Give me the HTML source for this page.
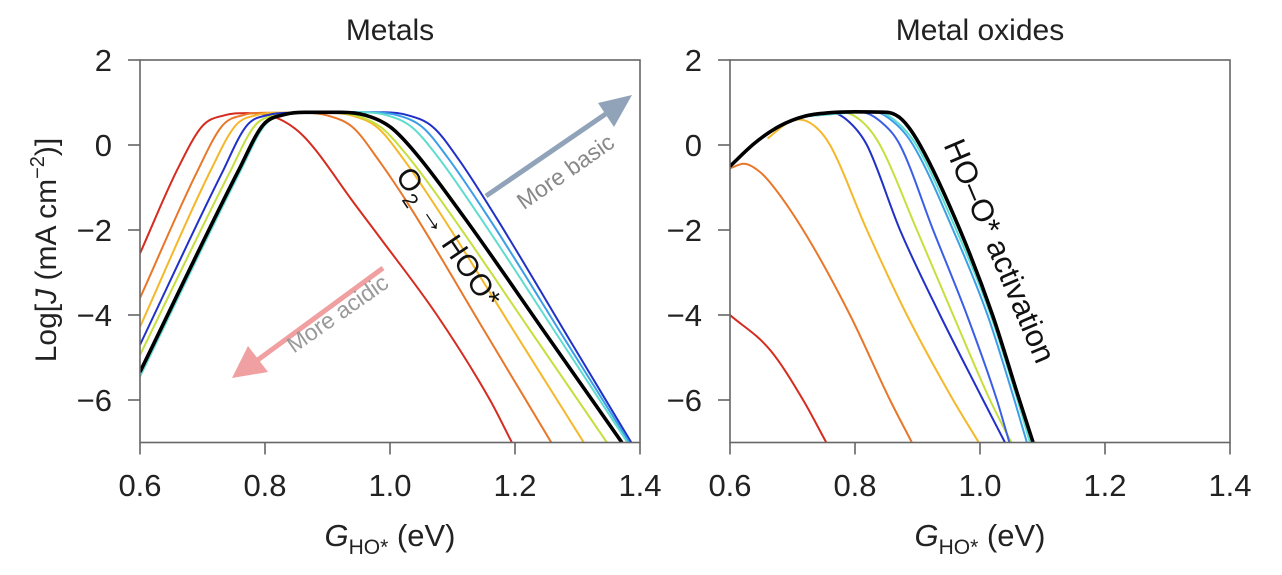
<!DOCTYPE html>
<html><head><meta charset="utf-8"><style>
html,body{margin:0;padding:0;background:#fff;}
svg text{font-family:"Liberation Sans",Arial,sans-serif;}
</style></head><body>
<svg id="chart" width="1282" height="570" viewBox="0 0 1282 570" xmlns="http://www.w3.org/2000/svg">
<g id="root"></g>
</svg>
<script>
const xTicks=[0.6,0.8,1.0,1.2,1.4];
const xTickLabels=["0.6","0.8","1.0","1.2","1.4"];
const yTicks=[2,0,-2,-4,-6];
const yTickLabels=["2","0","\u22122","\u22124","\u22126"];
const panelTitles=["Metals","Metal oxides"];
const seriesColors=["#d62b1f","#e8772a","#f5b82a","#2030c8","#c6df3c","#5fdcd0","#3c9ee8","#000000","#3a5ee6"];
const seriesNames=["red","orange","light-orange","dark-blue","yellow-green","cyan","light-blue","black","blue"];
// Metals panel curves: [x, logJ]
const metalsRed=[[0.6,-2.55],[0.66,-0.57],[0.70,0.45],[0.735,0.7],[0.77,0.75],[0.80,0.72],[0.83,0.56],[0.855,0.3],[0.88,-0.1],[0.938,-1.28],[0.985,-2.2],[1.075,-4.0],[1.16,-6.0],[1.195,-7]];
const metalsOrange=[[0.6,-3.6],[0.692,-0.61],[0.732,0.46],[0.767,0.71],[0.80,0.76],[0.861,0.76],[0.901,0.69],[0.941,0.41],[0.981,-0.34],[1.03,-1.41],[1.15,-4.35],[1.258,-7]];
const metalsLightOrange=[[0.6,-4.28],[0.713,-0.6],[0.753,0.46],[0.788,0.71],[0.82,0.76],[0.90,0.76],[0.94,0.69],[0.98,0.41],[1.02,-0.3],[1.08,-1.6],[1.2,-4.42],[1.31,-7]];
const metalsDarkBlue=[[0.6,-4.7],[0.731,-0.66],[0.771,0.46],[0.806,0.71],[0.84,0.76],[0.989,0.77],[1.029,0.70],[1.069,0.42],[1.109,-0.32],[1.17,-1.71],[1.29,-4.65],[1.386,-7]];
const metalsYellowGreen=[[0.6,-4.94],[0.744,-0.63],[0.784,0.46],[0.819,0.71],[0.85,0.76],[0.906,0.76],[0.946,0.69],[0.986,0.41],[1.026,-0.22],[1.1,-1.69],[1.22,-4.27],[1.347,-7]];
const metalsCyan=[[0.6,-5.45],[0.76,-0.63],[0.80,0.47],[0.835,0.72],[0.87,0.77],[0.955,0.77],[0.995,0.70],[1.035,0.42],[1.075,-0.25],[1.15,-1.83],[1.27,-4.53],[1.38,-7]];
const metalsLightBlue=[[0.6,-5.4],[0.759,-0.62],[0.799,0.47],[0.834,0.72],[0.87,0.77],[0.972,0.77],[1.012,0.70],[1.052,0.42],[1.092,-0.29],[1.16,-1.76],[1.28,-4.58],[1.383,-7]];
const metalsBlack=[[0.6,-5.34],[0.757,-0.62],[0.797,0.47],[0.832,0.72],[0.865,0.77],[0.921,0.77],[0.961,0.70],[1.001,0.42],[1.041,-0.19],[1.12,-1.73],[1.25,-4.46],[1.371,-7]];
// Metal oxides panel curves
const oxRed=[[0.6,-4.0],[0.664,-4.82],[0.717,-6.0],[0.754,-7]];
const oxOrange=[[0.6,-0.55],[0.622,-0.44],[0.645,-0.6],[0.664,-0.88],[0.717,-2.0],[0.792,-4.0],[0.856,-6.0],[0.891,-7]];
const oxLightOrange=[[0.66,0.15],[0.69,0.5],[0.71,0.6],[0.735,0.45],[0.76,0.0],[0.819,-2.0],[0.883,-4.0],[0.957,-6.0],[0.998,-7]];
const oxDarkBlue=[[0.72,0.68],[0.76,0.77],[0.79,0.55],[0.819,0.0],[0.872,-2.0],[0.936,-4.0],[1.005,-6.0],[1.04,-7]];
const oxYellowGreen=[[0.72,0.68],[0.78,0.77],[0.815,0.5],[0.84,0.0],[0.899,-2.0],[0.957,-4.0],[1.016,-6.0],[1.05,-7]];
const oxBlue=[[0.72,0.68],[0.81,0.77],[0.845,0.5],[0.872,0.0],[0.925,-2.0],[0.979,-4.0],[1.027,-6.0],[1.047,-7]];
const oxLightBlue=[[0.72,0.68],[0.83,0.78],[0.865,0.5],[0.893,0.0],[0.957,-2.0],[1.012,-4.0],[1.055,-6.0],[1.075,-7]];
const oxCyan=[[0.72,0.68],[0.835,0.78],[0.87,0.5],[0.898,0.0],[0.962,-2.0],[1.017,-4.0],[1.06,-6.0],[1.08,-7]];
const oxBlack=[[0.6,-0.5],[0.64,0.05],[0.68,0.45],[0.72,0.68],[0.76,0.76],[0.8,0.78],[0.85,0.77],[0.875,0.6],[0.904,0.0],[0.968,-2.0],[1.02,-4.0],[1.063,-6.0],[1.085,-7]];

const NS="http://www.w3.org/2000/svg";
const root=document.getElementById('root');
function mk(tag,attrs,parent){const e=document.createElementNS(NS,tag);for(const k in attrs)e.setAttribute(k,attrs[k]);(parent||root).appendChild(e);return e;}
const X0=[140,730], PW=500, YTOP=60, YBOT=442.5;
function sx(p,v){return X0[p]+(v-0.6)/(1.4-0.6)*PW;}
function sy(v){return YTOP+(2-v)/(2-(-7))*(YBOT-YTOP);}
function pathFor(p,pts){
  const P=pts.map(d=>[sx(p,d[0]),sy(d[1])]);
  const n=P.length, d=[], m=[];
  for(let i=0;i<n-1;i++) d.push((P[i+1][1]-P[i][1])/(P[i+1][0]-P[i][0]));
  m[0]=d[0]; m[n-1]=d[n-2];
  for(let i=1;i<n-1;i++){ m[i]=(d[i-1]*d[i]<=0)?0:(d[i-1]+d[i])/2; }
  for(let i=0;i<n-1;i++){
    if(d[i]===0){m[i]=0;m[i+1]=0;continue;}
    const a=m[i]/d[i], b=m[i+1]/d[i], s=a*a+b*b;
    if(s>9){const t=3/Math.sqrt(s); m[i]=t*a*d[i]; m[i+1]=t*b*d[i];}
  }
  let s="M"+P[0][0].toFixed(1)+","+P[0][1].toFixed(1);
  for(let i=0;i<n-1;i++){
    const h=(P[i+1][0]-P[i][0])/3;
    s+=" C"+(P[i][0]+h).toFixed(1)+","+(P[i][1]+m[i]*h).toFixed(1)+" "+(P[i+1][0]-h).toFixed(1)+","+(P[i+1][1]-m[i+1]*h).toFixed(1)+" "+P[i+1][0].toFixed(1)+","+P[i+1][1].toFixed(1);
  }
  return s;
}
function panel(p,curves,colorIdx){
  const g=mk('g',{});
  
  
  const cp=mk('clipPath',{id:'clip'+p},g);
  mk('rect',{x:X0[p],y:YTOP,width:PW,height:YBOT-YTOP},cp);
  const t=mk('text',{x:X0[p]+PW/2,y:40,'text-anchor':'middle','font-size':30,fill:'#222'},g);
  t.textContent=panelTitles[p];
  
  
  const cg=mk('g',{'clip-path':'url(#clip'+p+')'},g);
  curves.forEach((c,i)=>{
    const ci=colorIdx[i];
    const pa=mk('path',{d:pathFor(p,c),fill:'none',stroke:seriesColors[ci],'stroke-width':ci===7?3.6:2,'stroke-linejoin':'round'},cg);
    
    
  });
  const fr=mk('rect',{x:X0[p],y:YTOP,width:PW,height:YBOT-YTOP,fill:'none',stroke:'#666','stroke-width':1.6},g);
  
  
  xTicks.forEach((v,i)=>{
    const x=sx(p,v);
    const tk=mk('line',{x1:x,x2:x,y1:YBOT,y2:YBOT+12,stroke:'#666','stroke-width':1.6},g);
    
    
    const tl=mk('text',{x:x,y:496,'text-anchor':'middle','font-size':31,fill:'#222'},g);
    tl.textContent=xTickLabels[i];
    
    
  });
  yTicks.forEach((v,i)=>{
    const y=sy(v);
    const tk=mk('line',{x1:X0[p]-12,x2:X0[p],y1:y,y2:y,stroke:'#666','stroke-width':1.6},g);
    
    
    const tl=mk('text',{x:X0[p]-28,y:y+11,'text-anchor':'end','font-size':31,fill:'#222'},g);
    tl.textContent=yTickLabels[i];
    
    
  });
  const xt=mk('text',{x:X0[p]+PW/2,y:546,'text-anchor':'middle','font-size':31,fill:'#222'},g);
  xt.innerHTML='<tspan font-style="italic">G</tspan><tspan font-size="21" dy="8">HO*</tspan><tspan dy="-8"> (eV)</tspan>';
  
  
}
panel(0,[metalsRed,metalsOrange,metalsLightOrange,metalsYellowGreen,metalsDarkBlue,metalsLightBlue,metalsCyan,metalsBlack],[0,1,2,4,3,6,5,7]);
panel(1,[oxRed,oxOrange,oxLightOrange,oxDarkBlue,oxYellowGreen,oxBlue,oxLightBlue,oxCyan,oxBlack],[0,1,2,3,4,8,6,5,7]);

// y axis title
const yt=mk('text',{x:0,y:0,'text-anchor':'middle','font-size':30,fill:'#222',transform:'translate(56,250) rotate(-90)'});
yt.innerHTML='Log[<tspan font-style="italic">J</tspan> (mA cm<tspan font-size="20" dy="-12">\u22122</tspan><tspan dy="12">)]</tspan>';



// annotations
const a1=mk('text',{x:0,y:0,'text-anchor':'middle','font-size':30,fill:'#111',transform:'translate(440,243) rotate(56)'});
a1.innerHTML='O<tspan font-size="21" dy="8">2</tspan><tspan dy="-8"> \u2192 HOO*</tspan>';


const a2=mk('text',{x:0,y:0,'text-anchor':'middle','font-size':31,fill:'#111',transform:'translate(990,255) rotate(67)'});
a2.textContent='HO\u2013O* activation';


const arB=mk('g',{});


mk('line',{x1:486,y1:196,x2:610,y2:111,stroke:'#90a3b8','stroke-width':5},arB);
mk('polygon',{points:'632,95 598,103 614,127',fill:'#90a3b8'},arB);
const tb=mk('text',{x:0,y:0,'text-anchor':'middle','font-size':23,fill:'#888',transform:'translate(570,178) rotate(-35)'});
tb.textContent='More basic';


const arA=mk('g',{});


mk('line',{x1:383,y1:268,x2:255,y2:362,stroke:'#f0a0a0','stroke-width':5},arA);
mk('polygon',{points:'232,378 248,346 268,372',fill:'#f0a0a0'},arA);
const ta=mk('text',{x:0,y:0,'text-anchor':'middle','font-size':23,fill:'#999',transform:'translate(342,320) rotate(-35)'});
ta.textContent='More acidic';


</script>
</body></html>
